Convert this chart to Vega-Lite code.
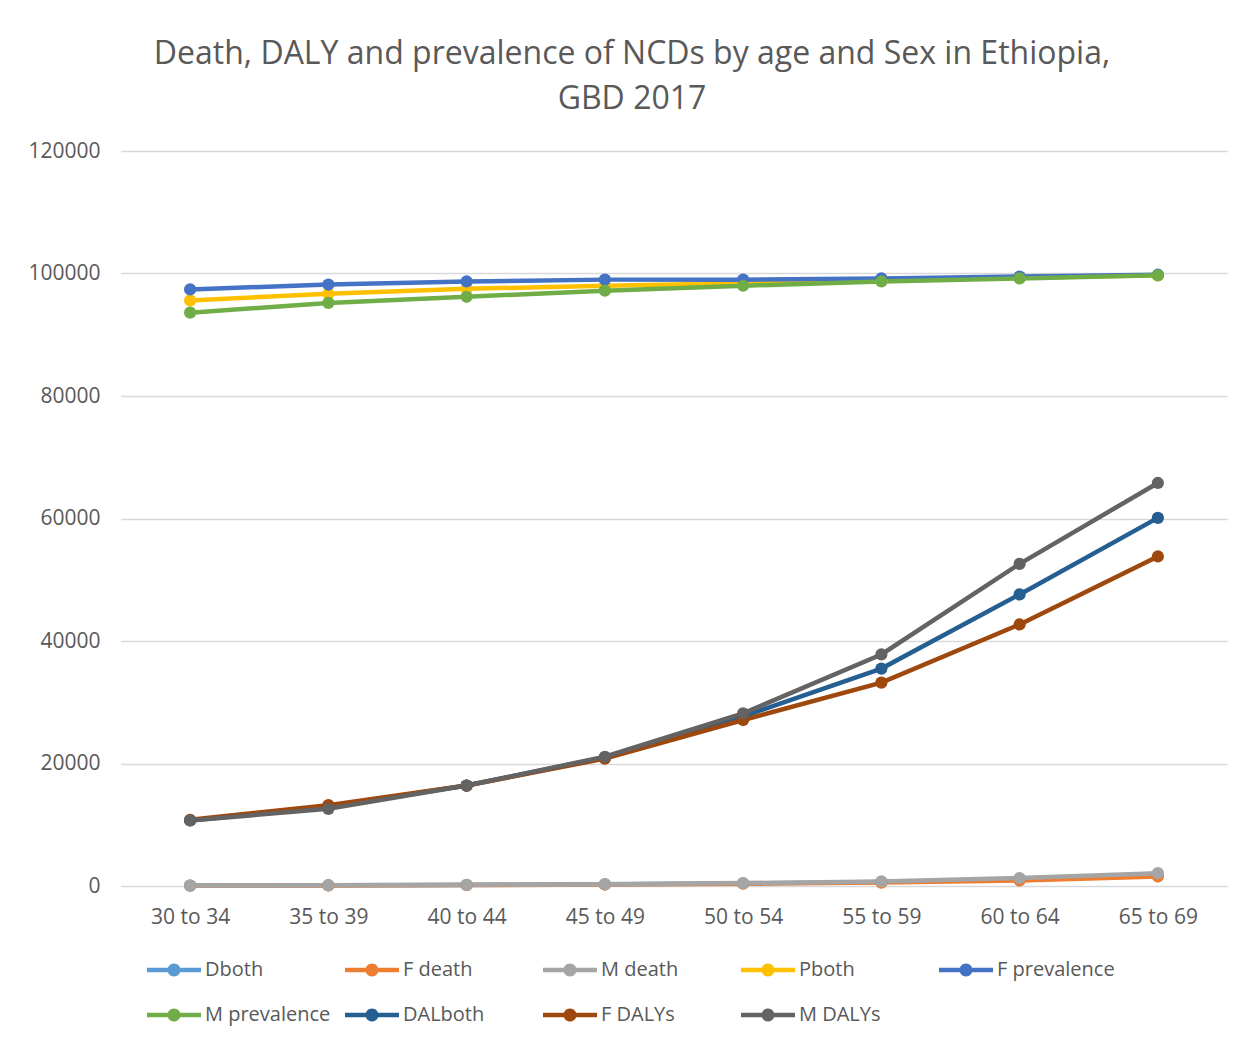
{
  "$schema": "https://vega.github.io/schema/vega-lite/v6.json",
  "width": 1106,
  "height": 735,
  "autosize": {"type": "none"},
  "padding": {"left": 121, "top": 151, "right": 25, "bottom": 158},
  "background": "white",
  "title": {
    "text": ["Death, DALY and prevalence of NCDs by age and Sex in Ethiopia,", "GBD 2017"],
    "font": "Open Sans",
    "fontSize": 32,
    "fontWeight": "normal",
    "color": "#595959",
    "anchor": "middle",
    "lineHeight": 45,
    "dx": -42,
    "offset": 24
  },
  "data": {
    "values": [
      {"age": "30 to 34", "series": "Dboth", "value": 70},
      {"age": "35 to 39", "series": "Dboth", "value": 110},
      {"age": "40 to 44", "series": "Dboth", "value": 170},
      {"age": "45 to 49", "series": "Dboth", "value": 270},
      {"age": "50 to 54", "series": "Dboth", "value": 420},
      {"age": "55 to 59", "series": "Dboth", "value": 650},
      {"age": "60 to 64", "series": "Dboth", "value": 1100},
      {"age": "65 to 69", "series": "Dboth", "value": 1800},
      {"age": "30 to 34", "series": "F death", "value": 60},
      {"age": "35 to 39", "series": "F death", "value": 95},
      {"age": "40 to 44", "series": "F death", "value": 150},
      {"age": "45 to 49", "series": "F death", "value": 240},
      {"age": "50 to 54", "series": "F death", "value": 370},
      {"age": "55 to 59", "series": "F death", "value": 560},
      {"age": "60 to 64", "series": "F death", "value": 900},
      {"age": "65 to 69", "series": "F death", "value": 1550},
      {"age": "30 to 34", "series": "M death", "value": 80},
      {"age": "35 to 39", "series": "M death", "value": 125},
      {"age": "40 to 44", "series": "M death", "value": 190},
      {"age": "45 to 49", "series": "M death", "value": 300},
      {"age": "50 to 54", "series": "M death", "value": 470},
      {"age": "55 to 59", "series": "M death", "value": 740},
      {"age": "60 to 64", "series": "M death", "value": 1300},
      {"age": "65 to 69", "series": "M death", "value": 2100},
      {"age": "30 to 34", "series": "Pboth", "value": 95600},
      {"age": "35 to 39", "series": "Pboth", "value": 96700},
      {"age": "40 to 44", "series": "Pboth", "value": 97500},
      {"age": "45 to 49", "series": "Pboth", "value": 98000},
      {"age": "50 to 54", "series": "Pboth", "value": 98400},
      {"age": "55 to 59", "series": "Pboth", "value": 98800},
      {"age": "60 to 64", "series": "Pboth", "value": 99300},
      {"age": "65 to 69", "series": "Pboth", "value": 99700},
      {"age": "30 to 34", "series": "F prevalence", "value": 97400},
      {"age": "35 to 39", "series": "F prevalence", "value": 98200},
      {"age": "40 to 44", "series": "F prevalence", "value": 98700},
      {"age": "45 to 49", "series": "F prevalence", "value": 99000},
      {"age": "50 to 54", "series": "F prevalence", "value": 99000},
      {"age": "55 to 59", "series": "F prevalence", "value": 99200},
      {"age": "60 to 64", "series": "F prevalence", "value": 99500},
      {"age": "65 to 69", "series": "F prevalence", "value": 99800},
      {"age": "30 to 34", "series": "M prevalence", "value": 93600},
      {"age": "35 to 39", "series": "M prevalence", "value": 95200},
      {"age": "40 to 44", "series": "M prevalence", "value": 96200},
      {"age": "45 to 49", "series": "M prevalence", "value": 97200},
      {"age": "50 to 54", "series": "M prevalence", "value": 98000},
      {"age": "55 to 59", "series": "M prevalence", "value": 98700},
      {"age": "60 to 64", "series": "M prevalence", "value": 99200},
      {"age": "65 to 69", "series": "M prevalence", "value": 99700},
      {"age": "30 to 34", "series": "DALboth", "value": 10700},
      {"age": "35 to 39", "series": "DALboth", "value": 12900},
      {"age": "40 to 44", "series": "DALboth", "value": 16400},
      {"age": "45 to 49", "series": "DALboth", "value": 21000},
      {"age": "50 to 54", "series": "DALboth", "value": 27700},
      {"age": "55 to 59", "series": "DALboth", "value": 35500},
      {"age": "60 to 64", "series": "DALboth", "value": 47600},
      {"age": "65 to 69", "series": "DALboth", "value": 60100},
      {"age": "30 to 34", "series": "F DALYs", "value": 10800},
      {"age": "35 to 39", "series": "F DALYs", "value": 13200},
      {"age": "40 to 44", "series": "F DALYs", "value": 16400},
      {"age": "45 to 49", "series": "F DALYs", "value": 20800},
      {"age": "50 to 54", "series": "F DALYs", "value": 27100},
      {"age": "55 to 59", "series": "F DALYs", "value": 33200},
      {"age": "60 to 64", "series": "F DALYs", "value": 42700},
      {"age": "65 to 69", "series": "F DALYs", "value": 53800},
      {"age": "30 to 34", "series": "M DALYs", "value": 10700},
      {"age": "35 to 39", "series": "M DALYs", "value": 12600},
      {"age": "40 to 44", "series": "M DALYs", "value": 16400},
      {"age": "45 to 49", "series": "M DALYs", "value": 21100},
      {"age": "50 to 54", "series": "M DALYs", "value": 28200},
      {"age": "55 to 59", "series": "M DALYs", "value": 37800},
      {"age": "60 to 64", "series": "M DALYs", "value": 52600},
      {"age": "65 to 69", "series": "M DALYs", "value": 65800}
    ]
  },
  "mark": {
    "type": "line",
    "strokeWidth": 4.5,
    "point": {"filled": true, "size": 150, "opacity": 1}
  },
  "encoding": {
    "x": {
      "field": "age",
      "type": "nominal",
      "sort": null,
      "title": null,
      "axis": {
        "labelAngle": 0,
        "labelFont": "Open Sans",
        "labelFontSize": 21,
        "labelColor": "#595959",
        "labelPadding": 20,
        "domain": false,
        "ticks": false,
        "grid": false
      }
    },
    "y": {
      "field": "value",
      "type": "quantitative",
      "title": null,
      "scale": {"domain": [0, 120000], "nice": false},
      "axis": {
        "values": [0, 20000, 40000, 60000, 80000, 100000, 120000],
        "format": "d",
        "labelFont": "Open Sans",
        "labelFontSize": 21,
        "labelColor": "#595959",
        "labelPadding": 21,
        "domain": false,
        "ticks": false,
        "gridColor": "#d9d9d9",
        "gridWidth": 1.5
      }
    },
    "color": {
      "field": "series",
      "type": "nominal",
      "sort": null,
      "scale": {
        "domain": ["Dboth", "F death", "M death", "Pboth", "F prevalence", "M prevalence", "DALboth", "F DALYs", "M DALYs"],
        "range": ["#5B9BD5", "#ED7D31", "#A5A5A5", "#FFC000", "#4472C4", "#70AD47", "#255E91", "#9E480E", "#636363"]
      },
      "legend": {
        "title": null,
        "orient": "none",
        "legendX": 43,
        "legendY": 809,
        "direction": "horizontal",
        "columns": 5,
        "gridAlign": "all",
        "columnPadding": 14,
        "rowPadding": 25,
        "padding": 0,
        "symbolType": "M-2.7,-0.22L2.7,-0.22L2.7,0.22L-2.7,0.22Z M-0.65,0A0.65,0.65 0 1,1 0.65,0A0.65,0.65 0 1,1 -0.65,0Z",
        "symbolSize": 400,
        "symbolStrokeWidth": 0,
        "labelFont": "Open Sans",
        "labelFontSize": 20,
        "labelColor": "#595959",
        "labelOffset": 21,
        "labelLimit": 300,
        "encode": {
          "symbols": {
            "update": {
              "fill": {"scale": "color", "field": "value"},
              "strokeWidth": {"value": 0},
              "opacity": {"value": 1}
            }
          }
        }
      }
    }
  },
  "config": {
    "view": {"stroke": null}
  }
}
